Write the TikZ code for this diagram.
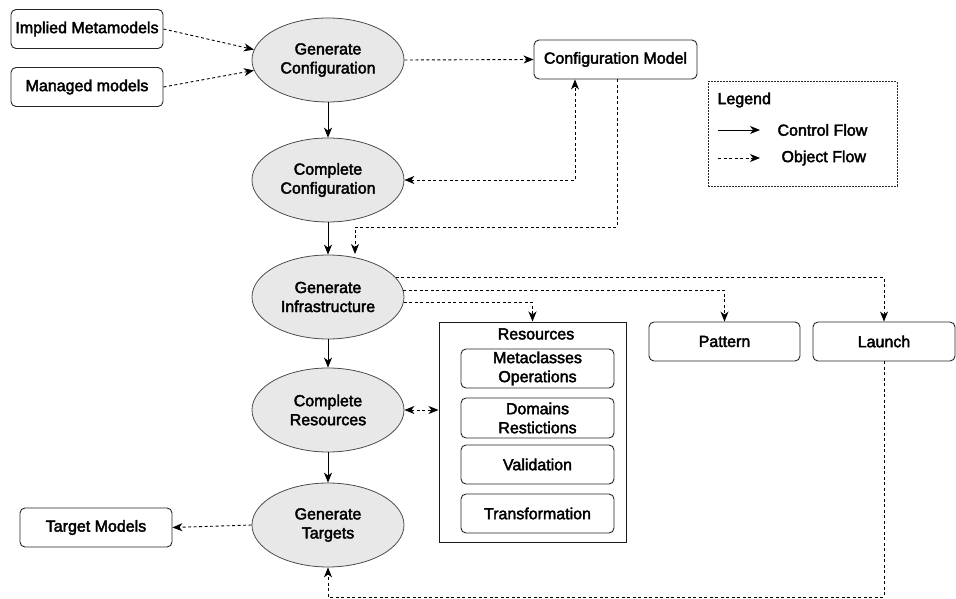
\documentclass[tikz,border=0pt]{standalone}
\usepackage{fontspec}
\setmainfont{Liberation Sans}[FakeBold=2.5]
\usetikzlibrary{shapes.geometric,arrows.meta}
\begin{document}
\begin{tikzpicture}[x=1pt,y=-1pt,
  every node/.style={font=\fontsize{16}{19}\selectfont, align=center, text=black},
  proc/.style={ellipse, draw=black!70, fill=black!9, line width=0.8pt, minimum width=152pt, minimum height=84pt, inner sep=0pt},
  rbox/.style={draw=black!85, rounded corners=5pt, line width=0.9pt, minimum width=152pt, minimum height=39pt, inner sep=0pt},
  ctrl/.style={line width=0.9pt, -{Stealth[length=10pt,width=8pt,inset=3pt]}},
  obj/.style={line width=0.9pt, dash pattern=on 3pt off 2.5pt, -{Stealth[length=10pt,width=8pt,inset=3pt]}},
  objboth/.style={line width=0.9pt, dash pattern=on 3pt off 2.5pt, {Stealth[length=10pt,width=8pt,inset=3pt]}-{Stealth[length=10pt,width=8pt,inset=3pt]}}
]
\useasboundingbox (0,0) rectangle (956,599);

% left inputs
\node[rbox] (im) at (87,29) {Implied Metamodels};
\node[rbox] (mm) at (87,87) {Managed models};

% processes
\node[proc] (gc) at (328,60) {Generate\\Configuration};
\node[proc] (cc) at (328,180) {Complete\\Configuration};
\node[proc] (gi) at (328,297) {Generate\\Infrastructure};
\node[proc] (cr) at (328,410) {Complete\\Resources};
\node[proc] (gt) at (328,525) {Generate\\Targets};

% configuration model
\node[rbox, minimum width=163pt] (cm) at (615.5,59.5) {Configuration Model};

% legend
\node[draw=black!85, dash pattern=on 2pt off 1pt, line width=1pt, minimum width=189pt, minimum height=104pt, inner sep=0pt] (leg) at (802.5,134) {};
\node[anchor=west] (legt) at (714,100) {Legend};
\coordinate (l1) at (718,130);
\coordinate (l2) at (760,130);
\coordinate (l3) at (718,158);
\coordinate (l4) at (760,158);
\node[anchor=west] (lcf) at (774,130) {Control Flow};
\node[anchor=west] (lof) at (778,158) {Object Flow};
\draw[ctrl] (l1) -- (l2);
\draw[obj] (l3) -- (l4);

% resources container
\node[draw=black!90, line width=1pt, minimum width=187pt, minimum height=220pt, inner sep=0pt] (res) at (532.5,432) {};
\node (rest) at (536,334) {Resources};
\node[rbox, minimum width=153pt] (mo) at (537.5,368.5) {Metaclasses\\Operations};
\node[rbox, minimum width=153pt, minimum height=40pt] (dr) at (537.5,418) {Domains\\Restictions};
\node[rbox, minimum width=153pt] (va) at (537.5,464.5) {Validation};
\node[rbox, minimum width=153pt] (tr) at (537.5,513.5) {Transformation};

% pattern, launch, target models
\node[rbox, minimum width=151pt] (pa) at (724.5,341.5) {Pattern};
\node[rbox, minimum width=142pt] (la) at (884,341.5) {Launch};
\node[rbox] (tm) at (96,527.5) {Target Models};

% control flow
\draw[ctrl] (gc.south) -- (cc.north);
\draw[ctrl] (cc.south) -- (gi.north);
\draw[ctrl] (gi.south) -- (cr.north);
\draw[ctrl] (cr.south) -- (gt.north);

% object flow
\draw[obj] (im.east) -- (gc.172);
\draw[obj] (mm.east) -- (gc.-172);
\draw[obj] (gc.east) -- (cm.west);

\coordinate (c1) at (575,180);
\draw[objboth] (cc.east) -- (c1) -- (c1 |- cm.south);

\coordinate (c2) at (617,227);
\coordinate (c3) at (355,227);
\coordinate (c4) at (355,254);
\draw[obj] (c2 |- cm.south) -- (c2) -- (c3) -- (c4);

\draw[obj] (gi.16) -| (la.north);
\draw[obj] (gi.5) -| (pa.north);
\draw[obj] (gi.-4) -| (res.north);

\draw[objboth] (cr.east) -- (res.west |- cr.east);
\draw[obj] (gt.west) -- (tm.east);

\coordinate (c5) at (884,597);
\draw[obj] (la.south) -- (c5) -| (gt.south);
\end{tikzpicture}
\end{document}
